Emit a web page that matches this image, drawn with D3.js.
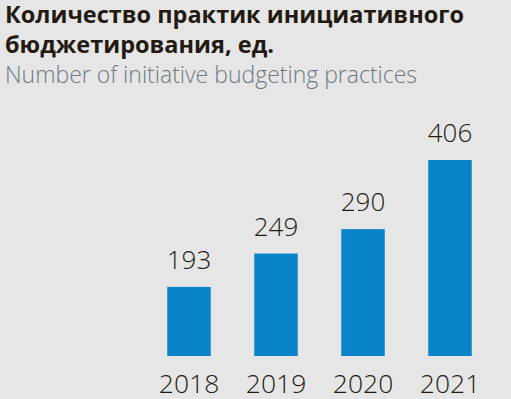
<!DOCTYPE html>
<html>
<head>
<meta charset="utf-8">
<script src="https://cdn.jsdelivr.net/npm/d3@7"></script>
<style>
  html, body { margin: 0; padding: 0; background: #e6e6e6; }
  #chart { width: 511px; height: 399px; }
</style>
</head>
<body>
<div id="chart"></div>
<script>
const years = ['2018', '2019', '2020', '2021'];
const practices = [193, 249, 290, 406];
const titleLines = ['Количество практик инициативного', 'бюджетирования, ед.'];
const subtitle = 'Number of initiative budgeting practices';

const CFG = {
  W: 511, H: 399,
  bg: '#e6e6e6',
  bar: '#0984c8',
  ink: '#231a12',
  sub: '#6c7a84',
  font: '"Open Sans", "Noto Sans", sans-serif',
};

const svg = d3.select('#chart').append('svg')
  .attr('width', CFG.W).attr('height', CFG.H);

svg.append('rect').attr('width', CFG.W).attr('height', CFG.H).attr('fill', CFG.bg);

// Titre
svg.append('text')
  .attr('font-family', CFG.font).attr('font-weight', 700)
  .attr('font-size', 23.5).attr('fill', CFG.ink)
  .selectAll('tspan').data(titleLines).join('tspan')
  .attr('x', 5).attr('y', (d, i) => 23 + i * 30)
  .text(d => d);

svg.append('text')
  .attr('x', 5).attr('y', 83)
  .attr('font-family', CFG.font).attr('font-weight', 300)
  .attr('font-size', 23).attr('fill', CFG.sub)
  .text(subtitle);

// Échelles (la base de l'axe n'est pas à zéro dans l'original)
const base = 77;
const x = d3.scaleBand().domain(years).range([145.5, 493.5]).paddingInner(0.5).paddingOuter(0.25);
const y = d3.scaleLinear().domain([base, 406]).range([356, 160]);

const g = svg.append('g');

g.selectAll('rect.bar').data(years).join('rect')
  .attr('class', 'bar')
  .attr('x', d => x(d))
  .attr('width', x.bandwidth())
  .attr('y', (d, i) => y(practices[i]))
  .attr('height', (d, i) => y(base) - y(practices[i]))
  .attr('fill', CFG.bar);

g.selectAll('text.val').data(years).join('text')
  .attr('class', 'val')
  .attr('x', d => x(d) + x.bandwidth() / 2)
  .attr('y', (d, i) => y(practices[i]) - 18)
  .attr('text-anchor', 'middle')
  .attr('font-family', CFG.font).attr('font-weight', 300)
  .attr('font-size', 26).attr('fill', CFG.ink)
  .text((d, i) => practices[i]);

// Axe X
g.append('g')
  .attr('transform', 'translate(0,393)')
  .call(d3.axisBottom(x).tickSize(0).tickPadding(0))
  .call(gg => gg.select('.domain').remove())
  .call(gg => gg.selectAll('text')
    .attr('dy', 0)
    .style('fill', CFG.ink)
    .style('font-size', '26.5px')
    .style('font-weight', 300)
    .style('font-family', CFG.font));
</script>
</body>
</html>
